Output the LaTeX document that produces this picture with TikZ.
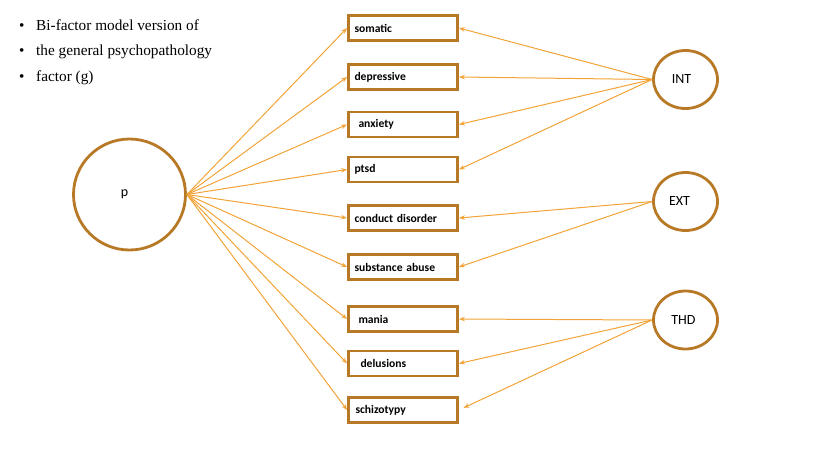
\documentclass[tikz,border=0pt]{standalone}
\usepackage{fontspec}
\setmainfont{Liberation Serif}
\newfontfamily\calfont{Carlito}
\usetikzlibrary{shapes.geometric,arrows.meta}
\definecolor{boxc}{RGB}{183,121,37}
\definecolor{arrc}{RGB}{242,163,55}
\begin{document}
\begin{tikzpicture}[x=1pt,y=-1pt,
  ind/.style={draw=boxc,line width=2.8pt,minimum width=109pt,minimum height=25pt,inner xsep=6pt,inner ysep=0pt,
    text width=97pt,align=left,font=\calfont\bfseries\fontsize{11.6}{13}\selectfont},
  lat/.style={draw=boxc,line width=2.8pt,ellipse,inner sep=0pt,minimum width=64pt,minimum height=58pt,
    font=\calfont\fontsize{14}{16}\selectfont},
  bul/.style={anchor=base west,inner sep=0pt,font=\fontsize{15.3}{18}\selectfont},
  ar/.style={draw=arrc,line width=1pt,-{Stealth[length=6pt,width=4.5pt]}}]
\useasboundingbox (0,0) rectangle (819,461);
% bullets
\node[bul] (b1) at (19,30) {\textbullet};
\node[bul] (t1) at (36,30) {Bi-factor model version of};
\node[bul] (b2) at (19,55.5) {\textbullet};
\node[bul] (t2) at (36,55.5) {the general psychopathology};
\node[bul] (b3) at (19,81) {\textbullet};
\node[bul] (t3) at (36,81) {factor (g)};
% latent
\node[lat,minimum width=112pt,minimum height=111pt] (p) at (129.5,194.5) {p\hspace*{10pt}};
\node[lat] (int) at (685.5,79.5) {INT\hspace*{8pt}};
\node[lat] (ext) at (685.5,201.5) {EXT\hspace*{12pt}};
\node[lat] (thd) at (685.5,320) {THD\hspace*{4pt}};
% indicators
\node[ind] (som) at (403,28) {somatic};
\node[ind] (dep) at (403,77) {depressive};
\node[ind] (anx) at (403,124.5) {\hspace*{4pt}anxiety};
\node[ind] (pts) at (403,169.5) {ptsd};
\node[ind] (con) at (403,218) {conduct disorder};
\node[ind] (sub) at (403,267) {substance abuse};
\node[ind] (man) at (403,319) {\hspace*{4pt}mania};
\node[ind] (del) at (403,363.5) {\hspace*{6pt}delusions};
\node[ind] (sch) at (403,410) {\hspace*{1pt}schizotypy};
% p loadings
\foreach \n in {som,dep,anx,pts,con,sub,man,del,sch}
  \draw[ar] (p.east) -- (\n.west);
% group loadings
\foreach \n in {som,dep,anx,pts}
  \draw[ar] (int.west) -- (\n.east);
\foreach \n in {con,sub}
  \draw[ar] (ext.west) -- (\n.east);
\foreach \n in {man,del}
  \draw[ar] (thd.west) -- (\n.east);
\draw[ar,shorten >=5pt] (thd.west) -- (sch.east);
\end{tikzpicture}
\end{document}
